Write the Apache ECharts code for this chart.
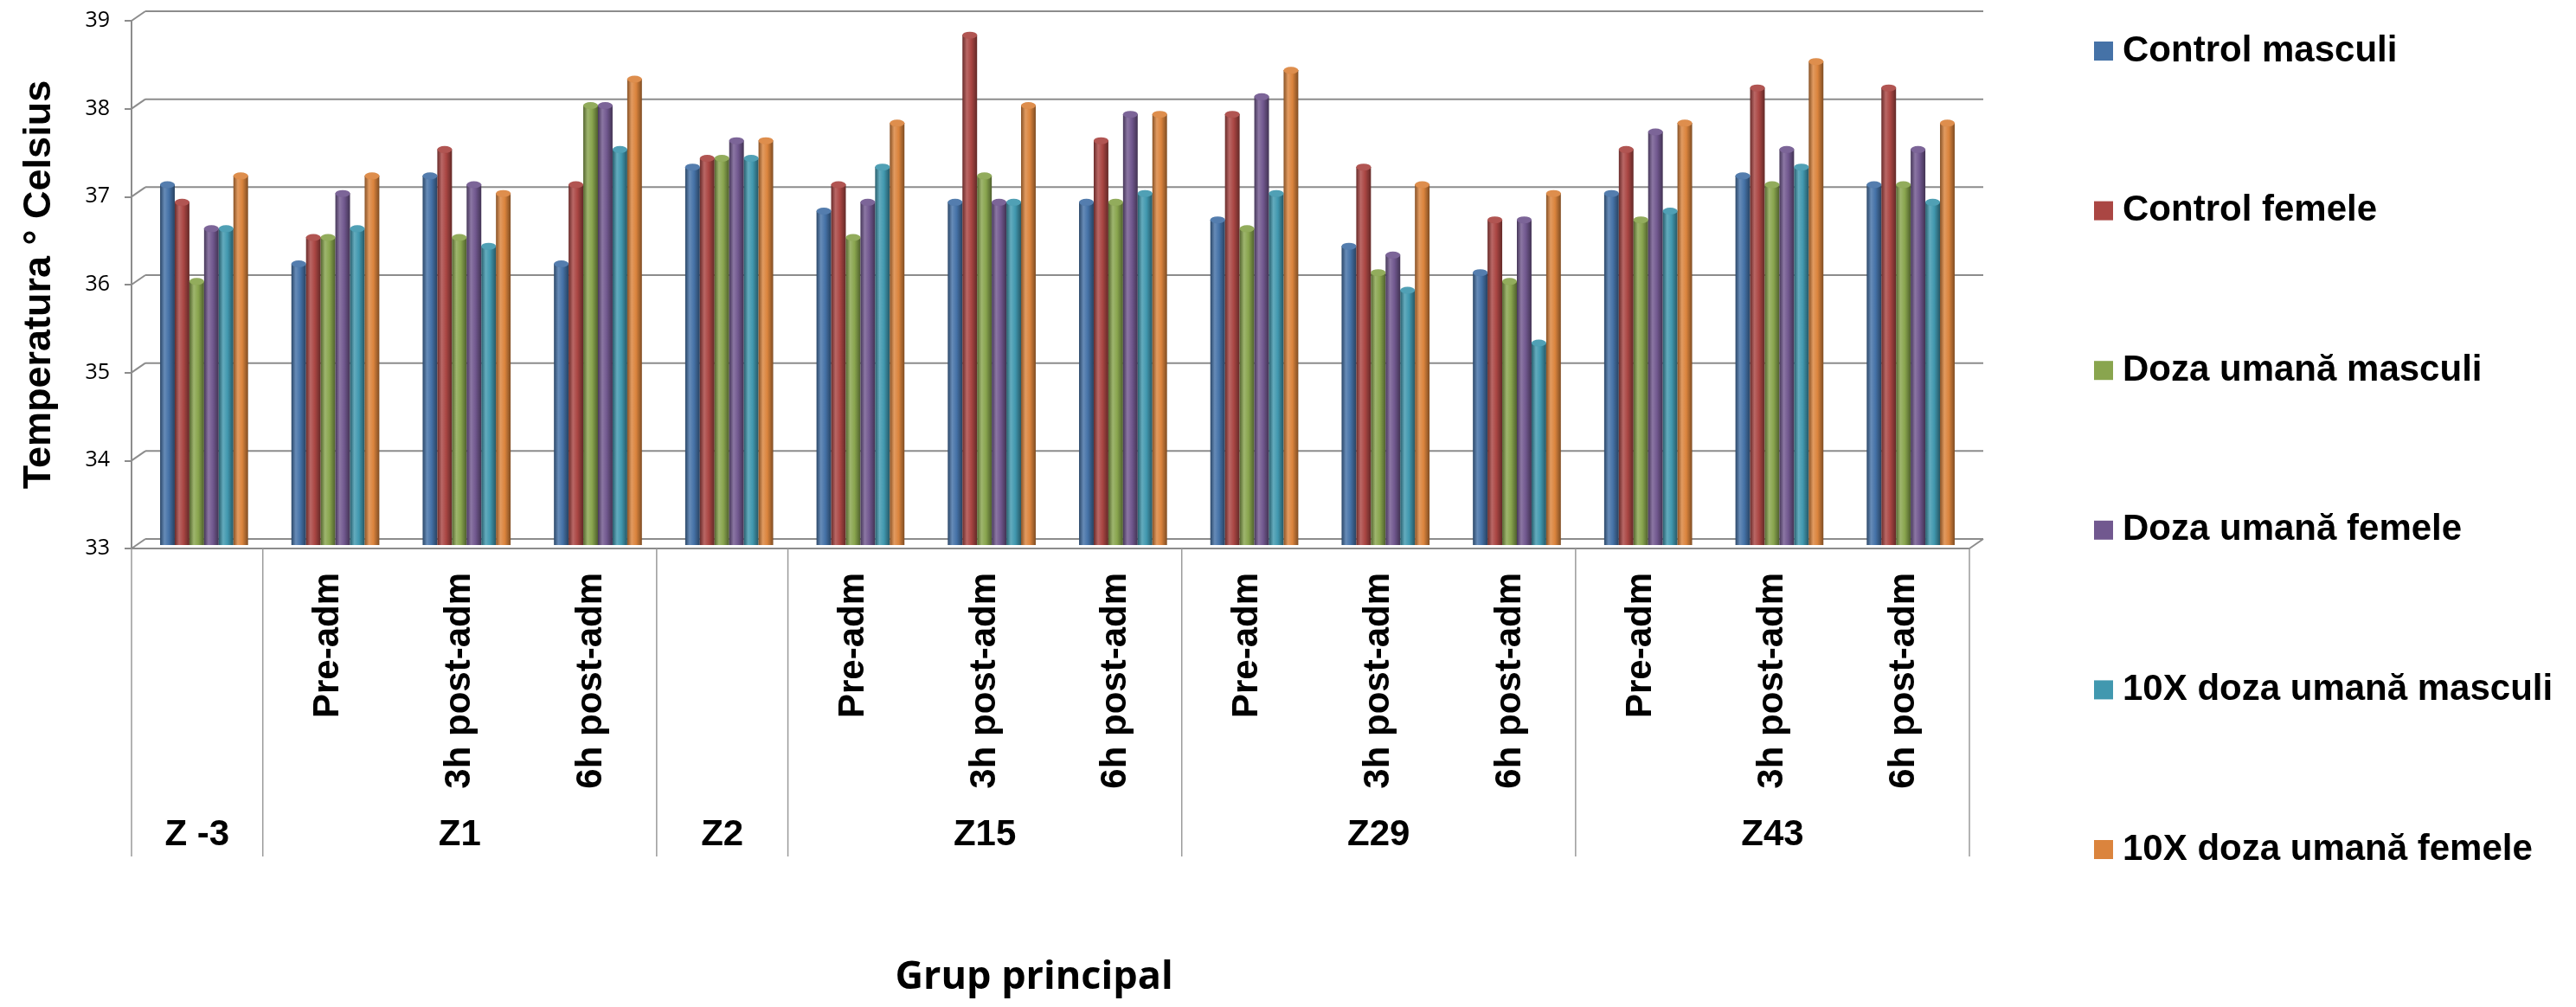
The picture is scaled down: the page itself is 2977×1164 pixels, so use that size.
<!DOCTYPE html>
<html>
<head>
<meta charset="utf-8">
<script src="https://cdn.jsdelivr.net/npm/echarts@6/dist/echarts.min.js"></script>
<style>
  html, body { margin: 0; padding: 0; background: #ffffff; }
  #chart { width: 2977px; height: 1164px; }
</style>
</head>
<body>
<div id="chart"></div>
<script>
// Main groups (days) and how many time points each one holds
const groups = ['Z -3', 'Z1', 'Z2', 'Z15', 'Z29', 'Z43'];
const groupSizes = [1, 3, 1, 3, 3, 3];

// Time-point label under each column group
const subLabels = ['', 'Pre-adm', '3h post-adm', '6h post-adm', '',
  'Pre-adm', '3h post-adm', '6h post-adm',
  'Pre-adm', '3h post-adm', '6h post-adm',
  'Pre-adm', '3h post-adm', '6h post-adm'];

// Y axis (temperature, °C)
const yMin = 33, yMax = 39, yStep = 1;
const yTicks = [33, 34, 35, 36, 37, 38, 39];

// Series names
const seriesNames = ['Control masculi', 'Control femele', 'Doza umană masculi',
  'Doza umană femele', '10X doza umană masculi', '10X doza umană femele'];

// Mean body temperature per column group
const controlMasculi = [37.1, 36.2, 37.2, 36.2, 37.3, 36.8, 36.9, 36.9, 36.7, 36.4, 36.1, 37.0, 37.2, 37.1];
const controlFemele  = [36.9, 36.5, 37.5, 37.1, 37.4, 37.1, 38.8, 37.6, 37.9, 37.3, 36.7, 37.5, 38.2, 38.2];
const dozaMasculi    = [36.0, 36.5, 36.5, 38.0, 37.4, 36.5, 37.2, 36.9, 36.6, 36.1, 36.0, 36.7, 37.1, 37.1];
const dozaFemele     = [36.6, 37.0, 37.1, 38.0, 37.6, 36.9, 36.9, 37.9, 38.1, 36.3, 36.7, 37.7, 37.5, 37.5];
const doza10xMasculi = [36.6, 36.6, 36.4, 37.5, 37.4, 37.3, 36.9, 37.0, 37.0, 35.9, 35.3, 36.8, 37.3, 36.9];
const doza10xFemele  = [37.2, 37.2, 37.0, 38.3, 37.6, 37.8, 38.0, 37.9, 38.4, 37.1, 37.0, 37.8, 38.5, 37.8];

const seriesValues = [controlMasculi, controlFemele, dozaMasculi, dozaFemele, doza10xMasculi, doza10xFemele];
const seriesColors = ['#4572A7', '#AA4643', '#89A54E', '#71588F', '#4198AF', '#DB843D'];

// ---- derived helpers ----
const categories = [];
const groupLabelAt = [];
const boundaries = [0];
(function () {
  let idx = 0;
  groups.forEach((g, gi) => {
    const n = groupSizes[gi];
    for (let k = 0; k < n; k++) {
      categories.push(g + '|' + subLabels[idx + k]);
      groupLabelAt.push(k === Math.floor((n - 1) / 2) ? g : '');
    }
    idx += n;
    boundaries.push(idx);
  });
})();
const nCat = categories.length;

function clamp(v) { return Math.max(0, Math.min(255, Math.round(v))); }
function parseHex(h) { return [parseInt(h.substr(1, 2), 16), parseInt(h.substr(3, 2), 16), parseInt(h.substr(5, 2), 16)]; }
function toHex(c) { return '#' + c.map(v => clamp(v).toString(16).padStart(2, '0')).join(''); }
function darken(h, f) { return toHex(parseHex(h).map(v => v * f)); }
function lighten(h, f) { return toHex(parseHex(h).map(v => v + (255 - v) * f)); }

function cylinderFill(c) {
  return {
    type: 'linear', x: 0, y: 0, x2: 1, y2: 0,
    colorStops: [
      { offset: 0, color: darken(c, 0.62) },
      { offset: 0.3, color: lighten(c, 0.18) },
      { offset: 0.6, color: c },
      { offset: 1, color: darken(c, 0.58) }
    ]
  };
}

// 3D wall depth (pixels)
const DX = 16, DY = -11;
const frameColor = '#8c8c8c';
const labelFont = 'Liberation Sans, Arial, sans-serif';

const barSeries = seriesNames.map((name, i) => ({
  name: name,
  type: 'bar',
  xAxisIndex: 2, yAxisIndex: 1,
  data: seriesValues[i],
  barGap: '0%',
  barCategoryGap: '33%',
  z: 3,
  itemStyle: { color: cylinderFill(seriesColors[i]) }
}));

const capSeries = seriesNames.map((name, i) => ({
  name: name,
  type: 'pictorialBar',
  xAxisIndex: 2, yAxisIndex: 1,
  data: seriesValues[i],
  barGap: '0%',
  barCategoryGap: '33%',
  symbol: 'circle',
  symbolSize: ['100%', 8],
  symbolPosition: 'end',
  symbolOffset: [0, '-50%'],
  z: 4,
  itemStyle: { color: lighten(seriesColors[i], 0.08), borderColor: darken(seriesColors[i], 0.6), borderWidth: 1 }
}));

const wallSeries = {
  type: 'custom',
  xAxisIndex: 3, yAxisIndex: 2,
  clip: false,
  silent: true,
  z: 1,
  data: yTicks.map(v => [0, v]),
  encode: { x: 0, y: 1 },
  renderItem: function (params, api) {
    const v = api.value(1);
    const a = api.coord([0, v]);
    const b = api.coord([nCat, v]);
    const st = { stroke: frameColor, lineWidth: 2 };
    const children = [
      { type: 'line', shape: { x1: a[0], y1: a[1], x2: a[0] + DX, y2: a[1] + DY }, style: st },
      { type: 'line', shape: { x1: a[0] + DX, y1: a[1] + DY, x2: b[0] + DX, y2: b[1] + DY }, style: st }
    ];
    if (v === yMin) {
      children.push({ type: 'line', shape: { x1: b[0], y1: b[1], x2: b[0] + DX, y2: b[1] + DY }, style: st });
    }
    return { type: 'group', children: children };
  }
};

const separatorSeries = {
  type: 'custom',
  xAxisIndex: 3, yAxisIndex: 2,
  clip: false,
  silent: true,
  z: 1,
  data: boundaries.map(b => [b, yMin]),
  encode: { x: 0, y: 1 },
  renderItem: function (params, api) {
    const p = api.coord([api.value(0), api.value(1)]);
    return {
      type: 'line',
      shape: { x1: p[0], y1: p[1], x2: p[0], y2: p[1] + 356 },
      style: { stroke: '#9a9a9a', lineWidth: 1.5 }
    };
  }
};

const frontGrid = { left: 152, top: 24, width: 2124, height: 610 };

const option = {
  animation: false,
  backgroundColor: '#ffffff',
  grid: [
    Object.assign({ containLabel: false, outerBoundsMode: 'none' }, frontGrid),
    { left: 160, top: 20, width: 2124, height: 610, containLabel: false, outerBoundsMode: 'none' },
    Object.assign({ containLabel: false, outerBoundsMode: 'none' }, frontGrid)
  ],
  legend: {
    orient: 'vertical',
    left: 2415,
    top: 33,
    itemWidth: 22,
    itemHeight: 22,
    itemGap: 142.6,
    icon: 'rect',
    textStyle: { fontFamily: labelFont, fontWeight: 'bold', fontSize: 42, color: '#000000', lineHeight: 42, padding: [0, 0, 0, 6] },
    data: seriesNames.map((n, i) => ({ name: n, itemStyle: { color: seriesColors[i] } }))
  },
  xAxis: [
    {
      // time points, rotated
      type: 'category', gridIndex: 0, position: 'bottom',
      data: categories,
      axisLine: { show: true, lineStyle: { color: frameColor, width: 2 } },
      axisTick: { show: false },
      splitLine: { show: false },
      axisLabel: {
        interval: 0, rotate: 90, margin: 28,
        fontFamily: labelFont, fontWeight: 'bold', fontSize: 42, color: '#000000',
        formatter: (v, i) => subLabels[i]
      }
    },
    {
      // main groups
      type: 'category', gridIndex: 0, position: 'bottom',
      data: categories,
      axisLine: { show: false },
      axisTick: { show: false },
      splitLine: { show: false },
      axisLabel: {
        interval: 0, margin: 310,
        fontFamily: labelFont, fontWeight: 'bold', fontSize: 42, color: '#000000',
        formatter: (v, i) => groupLabelAt[i]
      },
      name: 'Grup principal',
      nameLocation: 'middle',
      nameGap: 474,
      nameTextStyle: { fontFamily: 'Open Sans', fontWeight: 'bold', fontSize: 45, color: '#000000', padding: [0, 38, 0, 0] }
    },
    {
      // column placement
      type: 'category', gridIndex: 1, data: categories, show: false
    },
    {
      type: 'value', gridIndex: 2, min: 0, max: nCat, show: false
    }
  ],
  yAxis: [
    {
      type: 'value', gridIndex: 0, min: yMin, max: yMax, interval: yStep,
      axisLine: { show: true, lineStyle: { color: frameColor, width: 2 } },
      axisTick: { show: true, inside: false, length: 8, lineStyle: { color: frameColor, width: 2 } },
      splitLine: { show: false },
      axisLabel: { margin: 25, fontFamily: 'Open Sans', fontSize: 25, color: '#000000', padding: [6, 0, 0, 0] },
      name: 'Temperatura ° Celsius',
      nameLocation: 'middle',
      nameRotate: 90,
      nameGap: 84,
      nameTextStyle: { fontFamily: labelFont, fontWeight: 'bold', fontSize: 45, color: '#000000' }
    },
    { type: 'value', gridIndex: 1, min: yMin, max: yMax, interval: yStep, show: false },
    { type: 'value', gridIndex: 2, min: yMin, max: yMax, interval: yStep, show: false }
  ],
  series: [wallSeries, separatorSeries].concat(barSeries, capSeries)
};

const chart = echarts.init(document.getElementById('chart'), null, { renderer: 'canvas', width: 2977, height: 1164 });
chart.setOption(option);
</script>
</body>
</html>
